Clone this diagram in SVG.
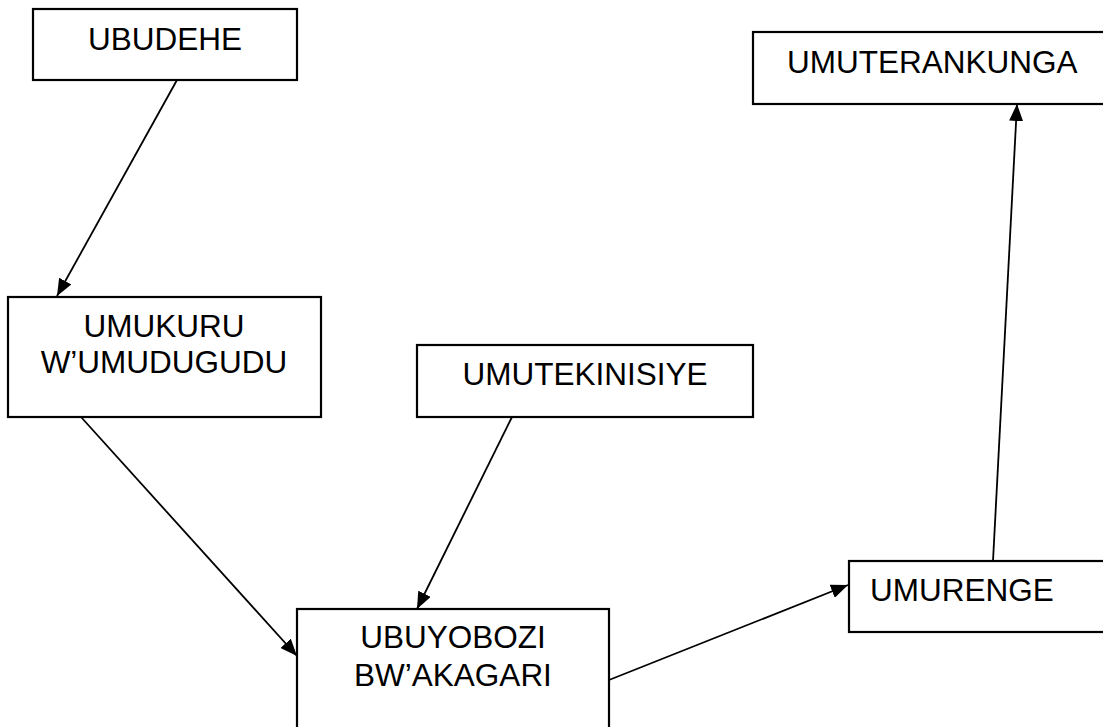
<svg xmlns="http://www.w3.org/2000/svg" width="1103" height="727" viewBox="0 0 1103 727">
<style>
.box{fill:#fff;stroke:#000;stroke-width:2.2}
.t{font-family:"Liberation Sans",Arial,sans-serif;font-size:31.5px;fill:#000}
.c{text-anchor:middle}
.conn line{stroke:#000;stroke-width:1.8;fill:none}
</style>
<defs>
<marker id="ah" markerUnits="userSpaceOnUse" markerWidth="18" markerHeight="14" refX="17" refY="7" orient="auto">
<path d="M0,0 L17,7 L0,14 Z" fill="#000"/>
</marker>
</defs>
<rect width="1103" height="727" fill="#fff"/>
<g id="ubudehe">
<rect class="box" x="33" y="9" width="264" height="71"/>
<text class="t c" x="165" y="50">UBUDEHE</text>
</g>
<g id="umuterankunga">
<rect class="box" x="753" y="32" width="360" height="72"/>
<text class="t" x="787" y="73">UMUTERANKUNGA</text>
</g>
<g id="umukuru">
<rect class="box" x="8" y="297" width="313" height="120"/>
<text class="t c" x="164" y="337">UMUKURU</text>
<text class="t c" x="164" y="373">W’UMUDUGUDU</text>
</g>
<g id="umutekinisiye">
<rect class="box" x="417" y="345" width="336" height="72"/>
<text class="t c" x="585" y="385">UMUTEKINISIYE</text>
</g>
<g id="ubuyobozi">
<rect class="box" x="297" y="609" width="312" height="130"/>
<text class="t c" x="453" y="648">UBUYOBOZI</text>
<text class="t c" x="453" y="686">BW’AKAGARI</text>
</g>
<g id="umurenge">
<rect class="box" x="849" y="561" width="270" height="71"/>
<text class="t" x="870" y="601">UMURENGE</text>
</g>
<g id="connectors" class="conn">
<line x1="177" y1="80" x2="57" y2="296" marker-end="url(#ah)"/>
<line x1="81" y1="417" x2="297" y2="656" marker-end="url(#ah)"/>
<line x1="512" y1="417" x2="417" y2="609" marker-end="url(#ah)"/>
<line x1="609" y1="680" x2="848" y2="585" marker-end="url(#ah)"/>
<line x1="993" y1="561" x2="1017" y2="104" marker-end="url(#ah)"/>
</g>
</svg>
